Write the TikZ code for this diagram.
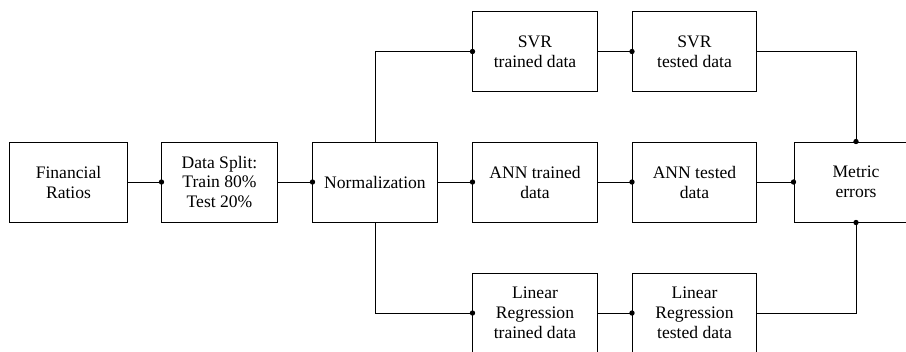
\documentclass[tikz,border=0pt]{standalone}
\usepackage{fontspec}
\setmainfont{Liberation Serif}
\usetikzlibrary{positioning}

\tikzset{
  box/.style={draw, line width=0.7pt, minimum height=2cm, minimum width=3.1cm,
    align=center, inner sep=2pt, font=\fontsize{12.5}{14.2}\selectfont},
  wire/.style={line width=0.6pt}
}
\newcommand{\joint}[1]{\fill (#1) circle (1.9pt);}

\begin{document}
\begin{tikzpicture}[x=0.025cm, y=-0.025cm]
        \useasboundingbox (0,0) rectangle (906,351);

        % left chain
        \node[box, minimum width=2.925cm] (fin) at (68.5,182) {Financial\\Ratios};
        \node[box, minimum width=2.875cm] (split) at (219.5,182) {Data Split:\\Train 80\%\\Test 20\%};
        \node[box] (norm) at (375,182) {Normalization};

        % model rows
        \node[box] (svrtrain) at (535,51.5) {SVR\\trained data};
        \node[box] (svrtest) at (694.5,51.5) {SVR\\tested data};
        \node[box] (anntrain) at (535,182) {ANN trained\\data};
        \node[box] (anntest) at (694.5,182) {ANN tested\\data};
        \node[box] (lrtrain) at (535,313) {Linear\\Regression\\trained data};
        \node[box] (lrtest) at (694.5,313) {Linear\\Regression\\tested data};

        \node[box] (metric) at (856,182) {Metric\\errors};

        % connectors
        \draw[wire] (fin.east) -- (split.west);
        \draw[wire] (split.east) -- (norm.west);
        \draw[wire] (norm.east) -- (anntrain.west);
        \draw[wire] (norm.north) |- (svrtrain.west);
        \draw[wire] (norm.south) |- (lrtrain.west);
        \draw[wire] (svrtrain.east) -- (svrtest.west);
        \draw[wire] (anntrain.east) -- (anntest.west);
        \draw[wire] (lrtrain.east) -- (lrtest.west);
        \draw[wire] (anntest.east) -- (metric.west);
        \draw[wire] (svrtest.east) -| (metric.north);
        \draw[wire] (lrtest.east) -| (metric.south);

        \joint{split.west} \joint{norm.west} \joint{anntrain.west}
        \joint{svrtrain.west} \joint{lrtrain.west} \joint{svrtest.west}
        \joint{anntest.west} \joint{lrtest.west} \joint{metric.west}
        \joint{metric.north} \joint{metric.south}
    \end{tikzpicture}
\end{document}
